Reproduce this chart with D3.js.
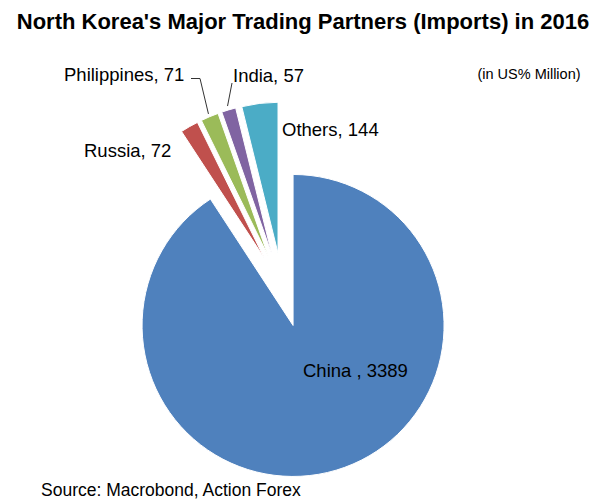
<!DOCTYPE html>
<html><head><meta charset="utf-8">
<script src="https://cdn.jsdelivr.net/npm/d3@7/dist/d3.min.js"></script>
<style>body{margin:0;background:#fff}svg{display:block}text{font-family:"Liberation Sans",Arial,sans-serif}</style>
</head><body>
<script>
const categories = ["China", "Russia", "Philippines", "India", "Others"];
const values = [3389, 72, 71, 57, 144];
const labels = ["China , 3389", "Russia, 72", "Philippines, 71", "India, 57", "Others, 144"];
const colors = ["#4F81BD", "#C0504D", "#9BBB59", "#8064A2", "#4BACC6"];

const W = 600, H = 502;
const cx = 282.5, cy = 290, R = 151, explode = 37;

const svg = d3.select("body").append("svg").attr("width", W).attr("height", H);

svg.append("text").attr("x", 303).attr("y", 29).attr("text-anchor", "middle")
  .attr("font-size", 22).attr("font-weight", "bold").attr("fill", "#000")
  .text("North Korea's Major Trading Partners (Imports) in 2016");
svg.append("text").attr("x", 529).attr("y", 79).attr("text-anchor", "middle")
  .attr("font-size", 14.5).attr("fill", "#000").text("(in US% Million)");
svg.append("text").attr("x", 41).attr("y", 496)
  .attr("font-size", 17.5).attr("fill", "#000").text("Source: Macrobond, Action Forex");

const data = categories.map((c, i) => ({cat: c, value: values[i], label: labels[i], color: colors[i]}));
const pie = d3.pie().value(d => d.value).sort(null);
const arcs = pie(data);
const arc = d3.arc().innerRadius(0).outerRadius(R);

const g = svg.append("g").attr("transform", `translate(${cx},${cy})`);
function off(a, r) {
  const m = (a.startAngle + a.endAngle) / 2;
  return [Math.sin(m) * r, -Math.cos(m) * r];
}
g.selectAll("path").data(arcs).join("path")
  .attr("transform", d => { const o = off(d, explode); return `translate(${o[0]},${o[1]})`; })
  .attr("d", arc).attr("fill", d => d.data.color)
  .attr("stroke", "#fff").attr("stroke-width", 1);

// label positions (absolute page coords, text start)
const labelPos = {China: [303, 377], Russia: [84, 157], Philippines: [64, 81], India: [233, 82], Others: [282, 136]};
arcs.forEach(a => {
  const p = labelPos[a.data.cat];
  svg.append("text").attr("x", p[0]).attr("y", p[1]).attr("font-size", 18.5).attr("fill", "#000").text(a.data.label);
});
// leader lines
const phil = arcs[2], ind = arcs[3];
const pEnd = off(phil, 191), iEnd = off(ind, 192);
svg.append("path").attr("fill", "none").attr("stroke", "#333").attr("stroke-width", 1)
  .attr("d", `M191,78.5H200L${cx + pEnd[0]},${cy + pEnd[1]}`);
svg.append("path").attr("fill", "none").attr("stroke", "#333").attr("stroke-width", 1)
  .attr("d", `M232,83L${cx + iEnd[0]},${cy + iEnd[1]}`);
</script>
</body></html>
